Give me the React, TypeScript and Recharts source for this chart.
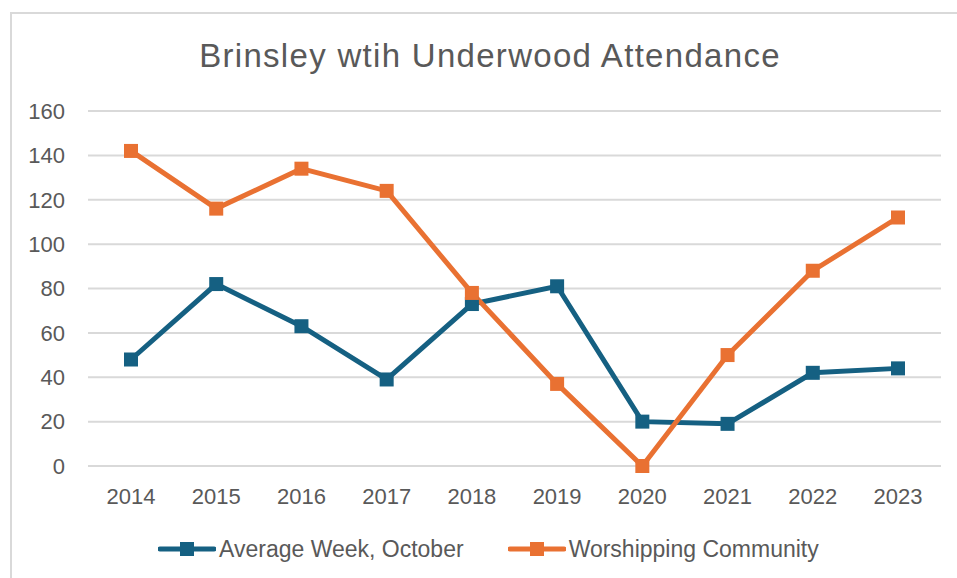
import React from 'react';
import { LineChart, Line, XAxis, YAxis, CartesianGrid } from 'recharts';

const years = ['2014', '2015', '2016', '2017', '2018', '2019', '2020', '2021', '2022', '2023'];
const averageWeek = [48, 82, 63, 39, 73, 81, 20, 19, 42, 44];
const worshipping = [142, 116, 134, 124, 78, 37, 0, 50, 88, 112];
const yTicks = [0, 20, 40, 60, 80, 100, 120, 140, 160];

const BLUE = '#156082';
const ORANGE = '#E97132';
const TEXT = '#595959';
const FONT = '"Liberation Sans", Arial, sans-serif';

const data = years.map((y, i) => ({ year: y, avg: averageWeek[i], wc: worshipping[i] }));

const SquareDot = (color: string) => (props: any) => {
  const { cx, cy, key } = props;
  if (cx == null || cy == null) return null;
  return <rect key={key} x={cx - 7} y={cy - 7} width={14} height={14} fill={color} />;
};

const LegendItem = ({ color, label }: { color: string; label: string }) => (
  <div style={{ display: 'flex', alignItems: 'center' }}>
    <svg width={58} height={20}>
      <line x1={2} y1={10} x2={56} y2={10} stroke={color} strokeWidth={5} strokeLinecap="round" />
      <rect x={22} y={3} width={14} height={14} fill={color} />
    </svg>
    <span style={{ marginLeft: 3 }}>{label}</span>
  </div>
);

export default function App() {
  return (
    <div style={{ position: 'absolute', left: 0, top: 0, width: 957, height: 578, background: '#fff', overflow: 'hidden', fontFamily: FONT }}>
      <div style={{ position: 'absolute', left: 10, top: 12, width: 980, height: 600, border: '2px solid #d9d9d9', boxSizing: 'border-box' }} />
      <div style={{ position: 'absolute', left: 0, width: 980, top: 36, textAlign: 'center', fontSize: 33, letterSpacing: 1.3, color: TEXT, lineHeight: '40px' }}>
        Brinsley wtih Underwood Attendance
      </div>
      <div style={{ position: 'absolute', left: 0, top: 0 }}>
        <LineChart width={957} height={578} data={data} margin={{ top: 111, right: 16, bottom: 0, left: 0 }}>
          <CartesianGrid vertical={false} stroke="#d9d9d9" strokeWidth={2} />
          <XAxis
            dataKey="year"
            axisLine={false}
            tickLine={false}
            height={112}
            tickMargin={16}
            interval={0}
            padding={{ left: 43, right: 43 }}
            tick={{ fill: TEXT, fontSize: 22, fontFamily: FONT }}
          />
          <YAxis
            domain={[0, 160]}
            ticks={yTicks}
            axisLine={false}
            tickLine={false}
            width={88}
            tickMargin={17}
            tick={{ fill: TEXT, fontSize: 22, fontFamily: FONT }}
          />
          <Line dataKey="avg" stroke={BLUE} strokeWidth={5} dot={SquareDot(BLUE)} isAnimationActive={false} />
          <Line dataKey="wc" stroke={ORANGE} strokeWidth={5} dot={SquareDot(ORANGE)} isAnimationActive={false} />
        </LineChart>
      </div>
      <div style={{ position: 'absolute', left: 158, top: 535, display: 'flex', gap: 44, fontSize: 23, color: TEXT, fontFamily: FONT, lineHeight: '28px' }}>
        <LegendItem color={BLUE} label="Average Week, October" />
        <LegendItem color={ORANGE} label="Worshipping Community" />
      </div>
    </div>
  );
}
